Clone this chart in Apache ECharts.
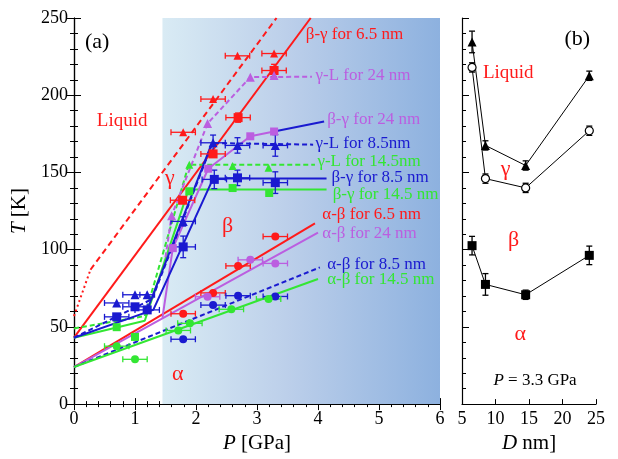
<!DOCTYPE html>
<html><head><meta charset="utf-8">
<script src="https://cdn.jsdelivr.net/npm/echarts@6/dist/echarts.min.js"></script>
<style>html,body{margin:0;padding:0;background:#fff}#c{width:618px;height:459px}</style>
</head><body><div id="c"></div>
<script>
// ---------- tick labels ----------
const pTicks = [0, 1, 2, 3, 4, 5, 6];
const tTicks = [0, 50, 100, 150, 200, 250];
const dTicks = [5, 10, 15, 20, 25];

// ---------- panel (a): shaded region along P ----------
const shadeRange = [1.45, 6];

// ---------- panel (a): phase lines [P, T] ----------
const redBetaGamma = [[0, 43], [3.88, 250]];
const redLiqDotted = [[0, 57], [0.27, 87]];
const redLiqDashed = [[0.27, 87], [3.32, 250]];
const redAlphaBeta = [[0, 24], [3.95, 117]];
const violetAlphaBeta = [[0, 24], [4.0, 111]];
const blueAlphaBeta = [[0, 24], [4.03, 88.5]];
const greenAlphaBeta = [[0, 24], [4.0, 81]];
const blueBetaGamma = [[0, 43], [1.3, 61], [2.28, 146], [4.14, 146]];
const blueLiqSolid = [[1.2, 61], [2.26, 169]];
const blueLiqDashed = [[0, 43], [1.28, 68], [2.27, 169], [3.92, 168]];
const greenBetaGamma = [[0, 43], [1.16, 54], [1.88, 139], [4.14, 139]];
const greenLiqDashed = [[0, 49], [1.16, 57], [1.88, 155], [3.95, 155]];
const violetBetaGamma = [[1.45, 56], [1.62, 101], [2.2, 152.4], [2.89, 173.4], [3.28, 176.5]];
const violetBetaGammaTail = [[3.28, 176.5], [4.1, 183]];
const violetLiqDashed = [[1.5, 95], [1.6, 122], [2.19, 181.7], [2.89, 211.7], [3.9, 212]];

// ---------- panel (a): measured points [P, T, dP, dT] ----------
const redSquares = [[1.78, 132, 0.2, 0], [2.28, 162, 0.2, 0], [2.69, 185.5, 0.2, 3], [3.28, 216, 0.2, 4]];
const redTriangles = [[1.79, 176, 0.2, 0], [2.28, 197.5, 0.2, 0], [2.68, 225.5, 0.2, 0], [3.28, 227, 0.2, 0]];
const redCircles = [[1.79, 58.5, 0.2, 0], [2.28, 72, 0.2, 0], [2.69, 89.5, 0.2, 0], [3.30, 108.5, 0.2, 0]];
const violetTriangles = [[1.6, 122, 0, 0], [2.19, 181.7, 0, 0], [2.89, 211.7, 0, 0], [3.28, 212.7, 0, 0]];
const violetSquares = [[1.62, 101, 0, 0], [2.2, 152.4, 0, 0], [2.89, 173.4, 0, 0], [3.28, 176.5, 0, 0]];
const violetCircles = [[2.19, 69.5, 0.2, 0], [2.89, 93.4, 0.2, 0], [3.30, 91.1, 0.2, 0]];
const blueTriangles = [[0.7, 65.5, 0.2, 0], [1.0, 70.8, 0.2, 0], [1.2, 70.8, 0.12, 0], [1.79, 118.3, 0.2, 3],
                       [2.28, 169.2, 0.2, 5], [2.68, 167.5, 0.2, 5], [3.30, 167.5, 0.2, 7]];
const blueSquares = [[0.7, 56.5, 0.2, 0], [1.0, 63, 0.2, 0], [1.2, 61, 0.2, 0], [1.79, 101.8, 0.2, 7],
                     [2.30, 145.5, 0.2, 6], [2.68, 146.5, 0.2, 5], [3.30, 143.4, 0.2, 7]];
const blueCircles = [[1.79, 42, 0.2, 0], [2.28, 64.1, 0.2, 0], [2.69, 70.2, 0.2, 0], [3.30, 69.7, 0.2, 0]];
const greenTriangles = [[1.89, 155, 0, 0], [2.60, 154.1, 0, 0], [3.19, 153, 0, 0]];
const greenSquares = [[0.7, 49.8, 0, 0], [1.0, 43.5, 0, 0], [1.89, 137.8, 0, 0], [2.60, 139.9, 0, 0], [3.20, 136.7, 0, 0]];
const greenCircles = [[0.7, 37.5, 0.2, 0], [1.0, 29, 0.2, 0], [1.71, 47.7, 0.2, 0], [1.90, 52.3, 0.2, 0],
                      [2.58, 61.4, 0.2, 0], [3.19, 68, 0.2, 0]];

// ---------- panel (b): P = 3.3 GPa, vs D ----------
const dSizes = [6.5, 8.5, 14.5, 24];
const liquidT = [234.5, 167.5, 154.5, 212.6];
const liquidErr = [7, 3, 3, 3];
const gammaT = [218, 146, 140, 177];
const gammaErr = [3, 3, 3, 3];
const betaT = [102.6, 77.5, 70.8, 96.3];
const betaErr = [6, 7, 3, 6];

// ================= build chart =================
const FONT = '"Liberation Serif","Times New Roman",serif';
const RED = '#ff1a1a', VIO = '#bb5ee0', BLU = '#1a1ad0', GRN = '#33e633';

const chart = echarts.init(document.getElementById('c'), null, {renderer: 'canvas'});

function lineS(data, color, type, xi, yi, width) {
  return {type: 'line', data: data, xAxisIndex: xi || 0, yAxisIndex: yi || 0, showSymbol: false, symbol: 'none',
    lineStyle: {color: color, width: width || 2, type: type || 'solid'}, z: 3, silent: true, animation: false};
}
function errS(data, color, xi, yi) {
  return {type: 'custom', xAxisIndex: xi || 0, yAxisIndex: yi || 0, data: data, z: 4, silent: true, clip: false,
    renderItem: function (p, api) {
      const x = api.value(0), y = api.value(1), dx = api.value(2), dy = api.value(3);
      const ch = [];
      const st = {stroke: color, lineWidth: 1.3};
      if (dx > 0) {
        const a = api.coord([x - dx, y]), b = api.coord([x + dx, y]);
        ch.push({type: 'line', shape: {x1: a[0], y1: a[1], x2: b[0], y2: b[1]}, style: st});
        ch.push({type: 'line', shape: {x1: a[0], y1: a[1] - 3, x2: a[0], y2: a[1] + 3}, style: st});
        ch.push({type: 'line', shape: {x1: b[0], y1: b[1] - 3, x2: b[0], y2: b[1] + 3}, style: st});
      }
      if (dy > 0) {
        const a = api.coord([x, y - dy]), b = api.coord([x, y + dy]);
        ch.push({type: 'line', shape: {x1: a[0], y1: a[1], x2: b[0], y2: b[1]}, style: st});
        ch.push({type: 'line', shape: {x1: a[0] - 3, y1: a[1], x2: a[0] + 3, y2: a[1]}, style: st});
        ch.push({type: 'line', shape: {x1: b[0] - 3, y1: b[1], x2: b[0] + 3, y2: b[1]}, style: st});
      }
      return {type: 'group', children: ch};
    }};
}
function ptS(data, color, symbol, size) {
  return {type: 'scatter', data: data.map(d => [d[0], d[1]]), xAxisIndex: 0, yAxisIndex: 0, symbol: symbol,
    symbolSize: size, itemStyle: {color: color, opacity: 1}, z: 5, silent: true};
}
function textS(items, xi, yi) {
  return {type: 'custom', xAxisIndex: xi, yAxisIndex: yi, data: items.map(it => [it[0], it[1]]), z: 10, silent: true, clip: false,
    renderItem: function (p, api) {
      const it = items[p.dataIndex];
      const c = api.coord([it[0], it[1]]);
      return {type: 'text', x: c[0], y: c[1], style: {text: it[2], fill: it[3], fontFamily: FONT, fontSize: it[4],
        align: it[5] || 'left', verticalAlign: 'middle',
        rich: {i: {fontStyle: 'italic', fontFamily: FONT, fontSize: it[4], fill: it[3]}}}};
    }};
}
function bSeries(vals, errs, symbol, fill) {
  const data = dSizes.map((d, i) => [d, vals[i]]);
  return [
    errS(dSizes.map((d, i) => [d, vals[i], 0, errs[i]]), '#000', 2, 2),
    {type: 'line', data: data, xAxisIndex: 2, yAxisIndex: 2, symbol: symbol, symbolSize: symbol === 'circle' ? 8 : 9,
      showSymbol: true, lineStyle: {color: '#000', width: 1}, itemStyle: {color: fill, borderColor: '#000', borderWidth: fill === '#fff' ? 1.2 : 0},
      z: 5, silent: true}
  ];
}

const tickLab = {fontFamily: FONT, fontSize: 18, color: '#000'};
const nameStyle = {fontFamily: FONT, fontSize: 21, color: '#000',
  rich: {i: {fontStyle: 'italic', fontFamily: FONT, fontSize: 21, color: '#000'}}};
const axLine = {show: true, lineStyle: {color: '#000', width: 1.2}};

const option = {
  animation: false,
  backgroundColor: '#fff',
  grid: [
    {left: 74, top: 18, width: 366, height: 399},
    {left: 462, top: 18, width: 134, height: 399}
  ],
  xAxis: [
    {gridIndex: 0, type: 'value', min: pTicks[0], max: pTicks[pTicks.length - 1], interval: 1, position: 'bottom',
      axisLine: axLine, axisTick: {inside: true, length: 6, lineStyle: {color: '#000'}},
      minorTick: {show: true, splitNumber: 5, length: 3, lineStyle: {color: '#000'}},
      splitLine: {show: false}, axisLabel: Object.assign({margin: 6, formatter: v => pTicks.includes(v) ? String(v) : ''}, tickLab),
      name: '{i|P} [GPa]', nameLocation: 'middle', nameGap: 20, nameTextStyle: nameStyle},
    {gridIndex: 0, type: 'value', min: 0, max: 6, interval: 1, position: 'top',
      axisLine: axLine, axisTick: {inside: true, length: 6, lineStyle: {color: '#000'}},
      minorTick: {show: true, splitNumber: 5, length: 3, lineStyle: {color: '#000'}},
      splitLine: {show: false}, axisLabel: {show: false}},
    {gridIndex: 1, type: 'value', min: dTicks[0], max: dTicks[dTicks.length - 1], interval: 5, position: 'bottom',
      axisLine: axLine, axisTick: {inside: true, length: 5, lineStyle: {color: '#000'}},
      splitLine: {show: false}, axisLabel: Object.assign({margin: 6, formatter: v => dTicks.includes(v) ? String(v) : ''}, tickLab),
      name: '{i|D} nm]', nameLocation: 'middle', nameGap: 20, nameTextStyle: nameStyle}
  ],
  yAxis: [
    {gridIndex: 0, type: 'value', min: tTicks[0], max: tTicks[tTicks.length - 1], interval: 50, position: 'left',
      axisLine: axLine, axisTick: {inside: true, length: 7, lineStyle: {color: '#000'}},
      minorTick: {show: true, splitNumber: 5, length: 4, lineStyle: {color: '#000'}},
      splitLine: {show: false}, axisLabel: Object.assign({margin: 6, formatter: v => tTicks.includes(v) ? String(v) : ''}, tickLab),
      name: '{i|T} [K]', nameLocation: 'middle', nameGap: 44, nameRotate: 90, nameTextStyle: nameStyle},
    {gridIndex: 0, type: 'value', min: 0, max: 250, interval: 50, position: 'right',
      axisLine: axLine, axisTick: {inside: true, length: 7, lineStyle: {color: '#000'}},
      minorTick: {show: true, splitNumber: 5, length: 4, lineStyle: {color: '#000'}},
      splitLine: {show: false}, axisLabel: {show: false}},
    {gridIndex: 1, type: 'value', min: 0, max: 250, interval: 50, position: 'left',
      axisLine: axLine, axisTick: {inside: true, length: 7, lineStyle: {color: '#000'}},
      minorTick: {show: true, splitNumber: 5, length: 4, lineStyle: {color: '#000'}},
      splitLine: {show: false}, axisLabel: {show: false}}
  ],
  series: [
    // shaded background
    {type: 'line', data: [], xAxisIndex: 0, yAxisIndex: 0, z: 1, silent: true,
      markArea: {silent: true, z: 1, itemStyle: {color: {type: 'linear', x: 0, y: 0, x2: 1, y2: 0,
        colorStops: [{offset: 0, color: '#d9ebf4'}, {offset: 0.45, color: '#bccfea'}, {offset: 1, color: '#8db1df'}]}},
        data: [[{xAxis: shadeRange[0], yAxis: tTicks[0]}, {xAxis: shadeRange[1], yAxis: tTicks[tTicks.length - 1]}]]}},
    lineS(redLiqDotted, RED, [2, 3]),
    lineS(redLiqDashed, RED, [6, 4]),
    lineS(redBetaGamma, RED),
    lineS(redAlphaBeta, RED),
    lineS(violetAlphaBeta, VIO),
    lineS(blueAlphaBeta, BLU, [5, 3]),
    lineS(greenAlphaBeta, GRN),
    lineS(greenBetaGamma, GRN),
    lineS(greenLiqDashed, GRN, [5, 3]),
    lineS(violetLiqDashed, VIO, [5, 3]),
    lineS(violetBetaGamma, VIO),
    lineS(violetBetaGammaTail, BLU),
    lineS(blueBetaGamma, BLU),
    lineS(blueLiqSolid, BLU),
    lineS(blueLiqDashed, BLU, [5, 3]),
    errS(redSquares, RED), errS(redTriangles, RED), errS(redCircles, RED),
    errS(violetCircles, VIO),
    errS(blueTriangles, BLU), errS(blueSquares, BLU), errS(blueCircles, BLU),
    errS(greenCircles, GRN),
    ptS(redSquares, RED, 'rect', 9), ptS(redTriangles, RED, 'triangle', 8), ptS(redCircles, RED, 'circle', 8),
    ptS(violetTriangles, VIO, 'triangle', 9), ptS(violetSquares, VIO, 'rect', 8), ptS(violetCircles, VIO, 'circle', 8),
    ptS(blueTriangles, BLU, 'triangle', 9), ptS(blueSquares, BLU, 'rect', 9), ptS(blueCircles, BLU, 'circle', 8),
    ptS(greenTriangles, GRN, 'triangle', 8), ptS(greenSquares, GRN, 'rect', 8), ptS(greenCircles, GRN, 'circle', 8),
    textS([
      [0.18, 234, '(a)', '#000', 22, 'left'],
      [0.79, 183, 'Liquid', RED, 19, 'center'],
      [1.57, 146, 'γ', RED, 22, 'center'],
      [2.52, 115.5, 'β', RED, 22, 'center'],
      [1.70, 19.5, 'α', RED, 22, 'center'],
      [3.80, 239, 'β-γ for 6.5 nm', RED, 17],
      [3.96, 213, 'γ-L for 24 nm', VIO, 17],
      [4.15, 184, 'β-γ for 24 nm', VIO, 17],
      [3.96, 168.5, 'γ-L for 8.5nm', BLU, 17],
      [3.99, 157, 'γ-L for 14.5nm', GRN, 17],
      [4.22, 146.5, 'β-γ for 8.5 nm', BLU, 17],
      [4.24, 136, 'β-γ for 14.5 nm', GRN, 17],
      [4.07, 122.5, 'α-β for 6.5 nm', RED, 17],
      [4.07, 110.5, 'α-β for 24 nm', VIO, 17],
      [4.15, 90.5, 'α-β for 8.5 nm', BLU, 17],
      [4.15, 80.5, 'α-β for 14.5 nm', GRN, 17]
    ], 0, 0),
    ...bSeries(betaT, betaErr, 'rect', '#000'),
    ...bSeries(gammaT, gammaErr, 'circle', '#fff'),
    ...bSeries(liquidT, liquidErr, 'triangle', '#000'),
    textS([
      [22.2, 236.5, '(b)', '#000', 22, 'center'],
      [11.9, 214.5, 'Liquid', RED, 19, 'center'],
      [11.5, 152, 'γ', RED, 22, 'center'],
      [12.7, 106, 'β', RED, 22, 'center'],
      [13.7, 45, 'α', RED, 22, 'center'],
      [15.9, 15, '{i|P} = 3.3 GPa', '#000', 17, 'center']
    ], 2, 2)
  ]
};
chart.setOption(option);
</script></body></html>
